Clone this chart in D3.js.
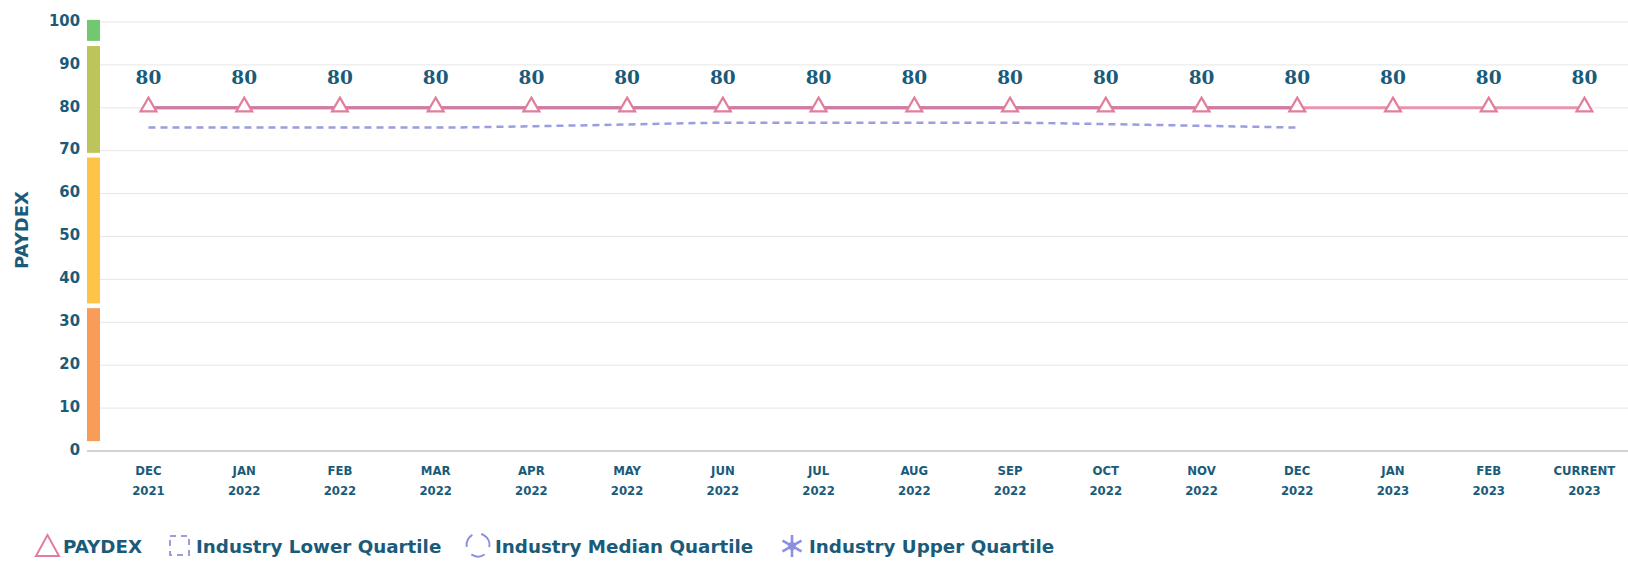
<!DOCTYPE html>
<html>
<head>
<meta charset="utf-8">
<script src="https://cdn.jsdelivr.net/npm/d3@7/dist/d3.min.js"></script>
<style>
  html, body { margin: 0; padding: 0; background: #fff; }
  svg { display: block; }
</style>
</head>
<body>
<div id="chart"></div>
<script>
// categories
const months = ['DEC', 'JAN', 'FEB', 'MAR', 'APR', 'MAY', 'JUN', 'JUL', 'AUG', 'SEP', 'OCT', 'NOV', 'DEC', 'JAN', 'FEB', 'CURRENT'];
const years = ['2021', '2022', '2022', '2022', '2022', '2022', '2022', '2022', '2022', '2022', '2022', '2022', '2022', '2023', '2023', '2023'];

// series
const paydex = [80, 80, 80, 80, 80, 80, 80, 80, 80, 80, 80, 80, 80, 80, 80, 80];
const lowerQuartile = [75.4, 75.4, 75.4, 75.4, 75.7, 76.1, 76.5, 76.5, 76.5, 76.5, 76.2, 75.8, 75.4];
const medianQuartile = [80, 80, 80, 80, 80, 80, 80, 80, 80, 80, 80, 80, 80];

// y axis
const yTicks = [0, 10, 20, 30, 40, 50, 60, 70, 80, 90, 100];
const bands = [
  { from: 2.3, to: 33.3, color: '#f79d59' },
  { from: 34.4, to: 68.4, color: '#fec44a' },
  { from: 69.5, to: 94.4, color: '#bdc55a' },
  { from: 95.6, to: 100.5, color: '#72c870' }
];
const legendItems = ['PAYDEX', 'Industry Lower Quartile', 'Industry Median Quartile', 'Industry Upper Quartile'];

const W = 1628, H = 566;
const textColor = '#1b5b7a';
const pink = '#e27d9b';
const lav = '#9a9de0';

const svg = d3.select('#chart').append('svg')
  .attr('width', W)
  .attr('height', H);

const keys = months.map((m, i) => i);
const x = d3.scalePoint().domain(keys).range([100.6, 1632.3]).padding(0.5);
const y = d3.scaleLinear().domain([0, 100]).range([451, 22]);

// grid
svg.append('g')
  .selectAll('line')
  .data(yTicks.filter(d => d > 0))
  .join('line')
  .attr('x1', 100).attr('x2', W)
  .attr('y1', d => y(d)).attr('y2', d => y(d))
  .attr('stroke', '#e6e6e6')
  .attr('stroke-width', 1);

// y tick labels
const yAxis = d3.axisLeft(y).tickValues(yTicks).tickSize(0).tickPadding(0);
const yg = svg.append('g')
  .attr('transform', 'translate(80,-2)')
  .call(yAxis);
yg.select('.domain').remove();
yg.selectAll('text')
  .attr('fill', textColor)
  .style('font-family', '"DejaVu Sans Condensed", "DejaVu Sans"')
  .style('font-weight', 'bold')
  .style('font-size', '16.5px');

// colour bands
svg.append('g')
  .selectAll('rect')
  .data(bands)
  .join('rect')
  .attr('x', 87)
  .attr('width', 13)
  .attr('y', d => y(d.to))
  .attr('height', d => y(d.from) - y(d.to))
  .attr('fill', d => d.color);

// x axis line
svg.append('line')
  .attr('x1', 87).attr('x2', W)
  .attr('y1', 451).attr('y2', 451)
  .attr('stroke', '#c4c4c4')
  .attr('stroke-width', 1.5);

// x labels
const xl = svg.append('g')
  .selectAll('text')
  .data(keys)
  .join('text')
  .attr('text-anchor', 'middle')
  .attr('fill', textColor)
  .style('font-family', '"DejaVu Sans Condensed", "DejaVu Sans"')
  .style('font-weight', 'bold')
  .style('font-size', '13px');
xl.append('tspan').attr('x', d => x(d)).attr('y', 475).text(d => months[d]);
xl.append('tspan').attr('x', d => x(d)).attr('y', 495).text(d => years[d]);

// y title
svg.append('text')
  .attr('transform', 'translate(28,230) rotate(-90)')
  .attr('text-anchor', 'middle')
  .attr('fill', textColor)
  .style('font-family', '"DejaVu Sans"')
  .style('font-weight', 'bold')
  .style('font-size', '18px')
  .text('PAYDEX');

const line = d3.line()
  .x((d, i) => x(i))
  .y(d => y(d))
  .curve(d3.curveMonotoneX);

// lower quartile
svg.append('path')
  .datum(lowerQuartile)
  .attr('d', line)
  .attr('fill', 'none')
  .attr('stroke', lav)
  .attr('stroke-width', 2.5)
  .attr('stroke-dasharray', '7,5');

// median quartile (sits under paydex)
svg.append('path')
  .datum(medianQuartile)
  .attr('d', line)
  .attr('fill', 'none')
  .attr('stroke', '#9a70b8')
  .attr('stroke-width', 3);

// paydex
svg.append('path')
  .datum(paydex)
  .attr('d', line)
  .attr('fill', 'none')
  .attr('stroke', pink)
  .attr('stroke-opacity', 0.8)
  .attr('stroke-width', 3);

const tri = d3.symbol().type(d3.symbolTriangle).size(110);
svg.append('g')
  .selectAll('path')
  .data(paydex)
  .join('path')
  .attr('d', tri)
  .attr('transform', (d, i) => `translate(${x(i)},${y(d) - 1})`)
  .attr('fill', '#fff')
  .attr('stroke', pink)
  .attr('stroke-width', 2.2);

// value labels
svg.append('g')
  .selectAll('text')
  .data(paydex)
  .join('text')
  .attr('x', (d, i) => x(i))
  .attr('y', d => y(d) - 24)
  .attr('text-anchor', 'middle')
  .attr('fill', textColor)
  .style('font-family', '"DejaVu Serif"')
  .style('font-weight', 'bold')
  .style('font-size', '18.5px')
  .text(d => d);

// legend
const legendX = [63, 196, 495, 809];
const ly = 546;
const lg = svg.append('g');
lg.selectAll('text')
  .data(legendItems)
  .join('text')
  .attr('x', (d, i) => legendX[i])
  .attr('y', ly)
  .attr('dy', '0.36em')
  .attr('fill', textColor)
  .style('font-family', '"DejaVu Sans"')
  .style('font-weight', 'bold')
  .style('font-size', '18.3px')
  .text(d => d);

lg.append('path')
  .attr('d', 'M36,556 L47.5,535 L59,556 Z')
  .attr('fill', 'none')
  .attr('stroke', pink)
  .attr('stroke-width', 2);

lg.append('rect')
  .attr('x', 170).attr('y', 536)
  .attr('width', 19).attr('height', 19)
  .attr('fill', 'none')
  .attr('stroke', lav)
  .attr('stroke-width', 2)
  .attr('stroke-dasharray', '6,5');

lg.append('circle')
  .attr('cx', 478).attr('cy', 545)
  .attr('r', 11.5)
  .attr('fill', 'none')
  .attr('stroke', '#8a8fe0')
  .attr('stroke-width', 2)
  .attr('stroke-dasharray', '14,9')
  .attr('transform', 'rotate(-60,478,545)');

const star = d3.symbol().type(d3.symbolAsterisk).size(340);
lg.append('path')
  .attr('d', star)
  .attr('transform', `translate(792,${ly})`)
  .attr('fill', 'none')
  .attr('stroke', '#8c90e4')
  .attr('stroke-width', 2.6);
lg.append('circle')
  .attr('cx', 792).attr('cy', ly).attr('r', 4)
  .attr('fill', '#8c90e4');
</script>
</body>
</html>
